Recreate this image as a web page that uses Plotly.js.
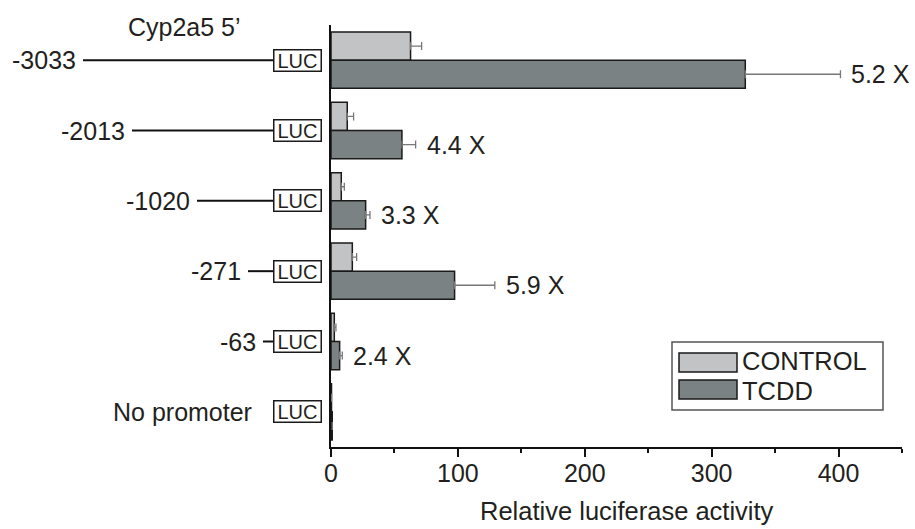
<!DOCTYPE html>
<html>
<head>
<meta charset="utf-8">
<script src="https://cdn.plot.ly/plotly-3.0.1.min.js"></script>
<style>html,body{margin:0;padding:0;background:#fff;}#chart{width:915px;height:529px;}</style>
</head>
<body>
<div id="chart"></div>
<script>
// ---- data ----
const constructs = ["-3033", "-2013", "-1020", "-271", "-63", "No promoter"];
const controlValues = [62.7, 12.8, 8.1, 16.8, 2.6, 0.4];
const controlErrors = [8.7, 5.0, 2.4, 3.4, 1.3, 0];
const tcddValues = [326.5, 55.9, 27.3, 97.4, 6.8, 1.0];
const tcddErrors = [75, 10.8, 3.4, 31.7, 2.1, 0];
const foldLabels = ["5.2 X", "4.4 X", "3.3 X", "5.9 X", "2.4 X", ""];
const seriesNames = ["CONTROL", "TCDD"];
const xTicks = [0, 100, 200, 300, 400];

// ---- layout helpers (pixel positions of the promoter diagram) ----
const W = 915, H = 529;
const M = {l: 331, r: 13, t: 25, b: 82};
const plotW = W - M.l - M.r, plotH = H - M.t - M.b;
const px = v => (v - M.l) / plotW;          // pixel x -> paper x
const py = v => (H - M.b - v) / plotH;      // pixel y -> paper y
const labelRightPx = [78, 127, 192, 243, 258, 254];
const lineStartPx = [83, 132, 197, 248, 263, null];
const lucLeftPx = 273;

const ink = "#231f20";
const colControl = "#c2c3c5";
const colTcdd = "#7a8283";
const font = "Liberation Sans, Arial, Helvetica, sans-serif";
const fs = 25;

const traces = [
  {
    type: "bar", orientation: "h", name: seriesNames[0],
    y: constructs, x: controlValues,
    marker: {color: colControl, line: {color: "#1a1a1a", width: 1.5}},
    error_x: {type: "data", array: controlErrors, arrayminus: controlErrors.map(() => 0),
              symmetric: false, color: "#777", thickness: 1.3, width: 4}
  },
  {
    type: "bar", orientation: "h", name: seriesNames[1],
    y: constructs, x: tcddValues,
    marker: {color: colTcdd, line: {color: "#1a1a1a", width: 1.5}},
    error_x: {type: "data", array: tcddErrors, arrayminus: tcddErrors.map(() => 0),
              symmetric: false, color: "#777", thickness: 1.3, width: 4}
  }
];

const annotations = [];
const shapes = [];

constructs.forEach((c, i) => {
  // construct name
  annotations.push({
    xref: "paper", yref: "y", x: px(labelRightPx[i]), y: i,
    xanchor: "right", yanchor: "middle", showarrow: false,
    text: c, font: {family: font, size: fs, color: ink}
  });
  // promoter line
  if (lineStartPx[i] !== null) {
    shapes.push({
      type: "line", xref: "paper", yref: "y",
      x0: px(lineStartPx[i]), x1: px(lucLeftPx), y0: i, y1: i,
      line: {color: "#111", width: 2}
    });
  }
  // LUC box
  annotations.push({
    xref: "paper", yref: "y", x: px(lucLeftPx), y: i,
    xanchor: "left", yanchor: "middle", showarrow: false,
    text: "LUC", font: {family: font, size: 20, color: ink},
    width: 44, height: 18, borderpad: 1, borderwidth: 1.5,
    bordercolor: "#1a1a1a", bgcolor: "#fff"
  });
  // fold induction
  if (foldLabels[i]) {
    annotations.push({
      xref: "x", yref: "y", x: tcddValues[i] + tcddErrors[i], y: i + 0.2,
      xanchor: "left", yanchor: "middle", xshift: 9, showarrow: false,
      text: foldLabels[i], font: {family: font, size: fs, color: ink}
    });
  }
});

// header of the diagram
annotations.push({
  xref: "paper", yref: "paper", x: px(184), y: py(27),
  xanchor: "center", yanchor: "middle", showarrow: false,
  text: "Cyp2a5 5\u2019", font: {family: font, size: fs, color: ink}
});

// x axis title
annotations.push({
  xref: "paper", yref: "paper", x: px(627), y: py(511),
  xanchor: "center", yanchor: "middle", showarrow: false,
  text: "Relative luciferase activity", font: {family: font, size: 25.5, color: ink}
});

// custom legend
shapes.push({type: "rect", xref: "paper", yref: "paper",
  x0: px(672), x1: px(883), y0: py(342), y1: py(410),
  line: {color: "#555", width: 1.5}, fillcolor: "#fff", layer: "above"});
[colControl, colTcdd].forEach((col, k) => {
  const top = [353, 380][k], bot = [372, 399][k];
  const textY = [361, 390.5][k];
  shapes.push({type: "rect", xref: "paper", yref: "paper",
    x0: px(679), x1: px(737), y0: py(top), y1: py(bot),
    line: {color: "#1a1a1a", width: 1.5}, fillcolor: col, layer: "above"});
  annotations.push({xref: "paper", yref: "paper", x: px(741), y: py(textY),
    xanchor: "left", yanchor: "middle", showarrow: false, borderpad: 0,
    text: seriesNames[k], font: {family: font, size: 25.5, color: ink}});
});

const layout = {
  width: W, height: H,
  margin: M,
  paper_bgcolor: "#fff", plot_bgcolor: "#fff",
  barmode: "group", bargap: 0.2, bargroupgap: 0,
  showlegend: false,
  font: {family: font, size: fs, color: ink},
  xaxis: {
    range: [0, 450], tickvals: xTicks, ticktext: xTicks.map(String),
    showgrid: false, zeroline: false,
    showline: true, linecolor: "#111", linewidth: 2,
    ticks: "outside", ticklen: 8, tickwidth: 2, tickcolor: "#111",
    ticklabelstandoff: -5,
    tickfont: {family: font, size: fs, color: ink},
    minor: {dtick: 50, tick0: 0, ticks: "outside", ticklen: 4, tickwidth: 2, tickcolor: "#111", showgrid: false}
  },
  yaxis: {
    type: "category", range: [5.5, -0.5],
    showticklabels: false, ticks: "", showgrid: false, zeroline: false,
    showline: true, linecolor: "#111", linewidth: 2
  },
  annotations: annotations,
  shapes: shapes
};

Plotly.newPlot("chart", traces, layout, {staticPlot: true, displayModeBar: false});
</script>
</body>
</html>
